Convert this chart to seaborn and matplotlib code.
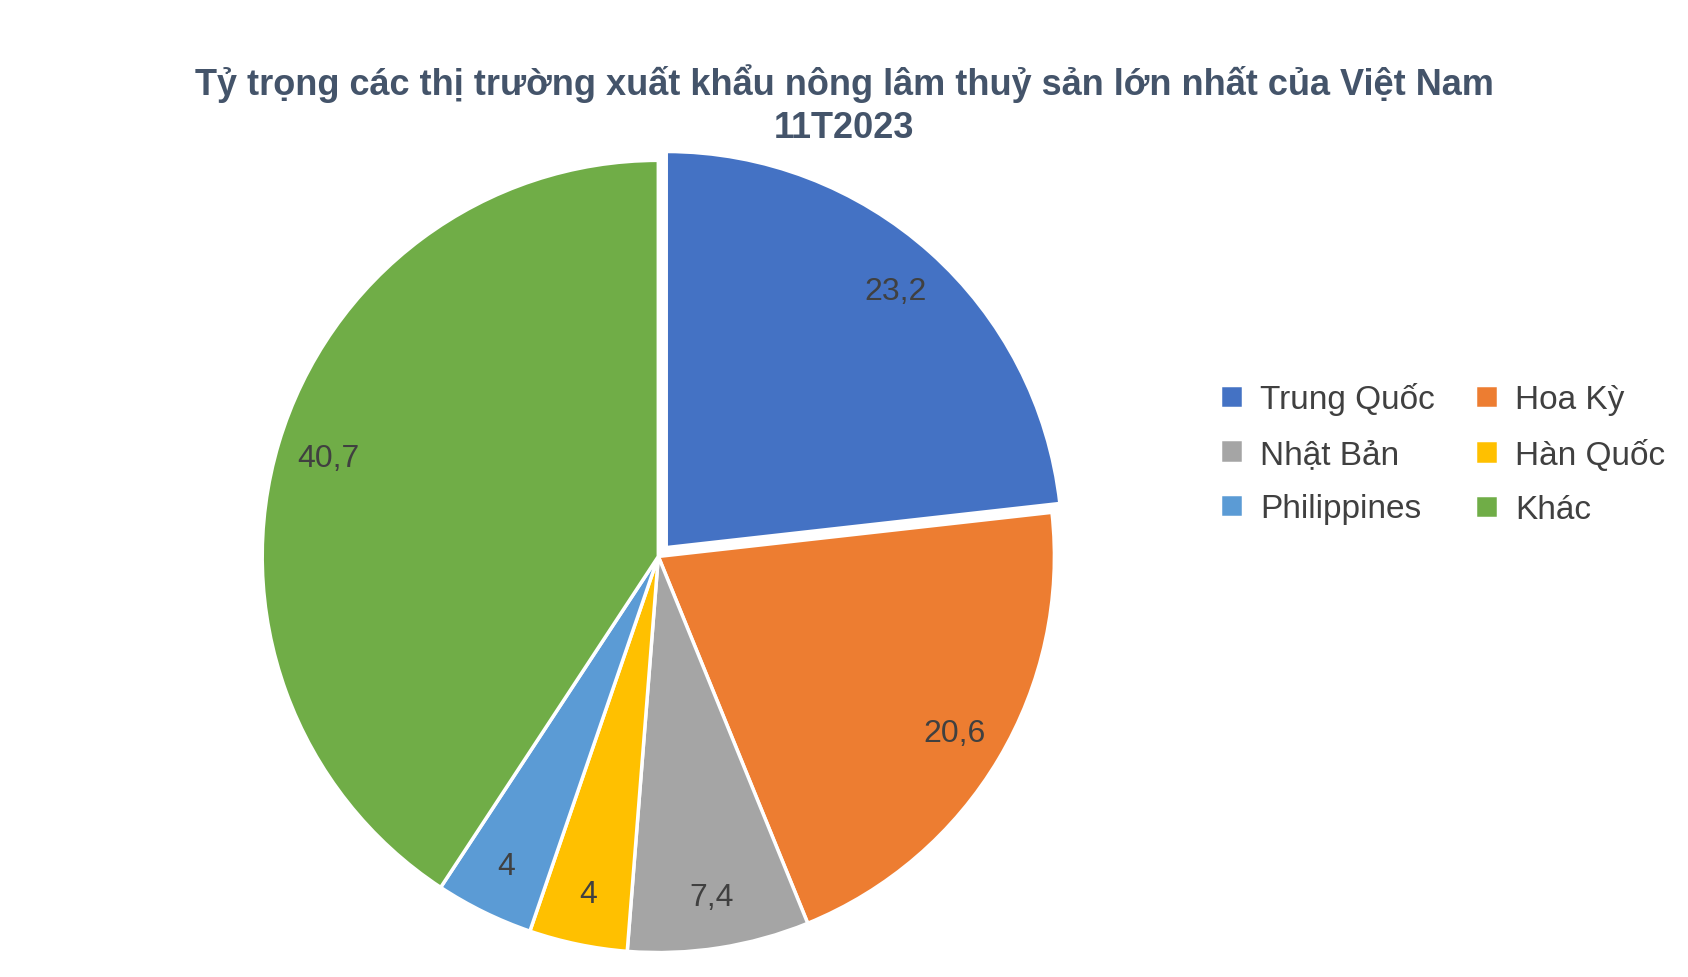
import matplotlib
matplotlib.use("Agg")
import matplotlib.pyplot as plt
import seaborn as sns

sns.set_theme(style="white")
plt.rcParams['font.family'] = ['Liberation Sans', 'DejaVu Sans']

markets = ['Trung Quốc', 'Hoa Kỳ', 'Nhật Bản', 'Hàn Quốc', 'Philippines', 'Khác']
shares = [23.2, 20.6, 7.4, 4, 4, 40.7]
share_labels = ['23,2', '20,6', '7,4', '4', '4', '40,7']
colors = ['#4472C4', '#ED7D31', '#A5A5A5', '#FFC000', '#5B9BD5', '#70AD47']
explode = [0.03, 0, 0, 0, 0, 0]

fig = plt.figure(figsize=(16.88, 9.78), dpi=100)
fig.patch.set_facecolor('white')
ax = fig.add_axes([0.153, 0.02, 0.474, 0.82])
wedges, texts = ax.pie(shares, labels=share_labels, colors=colors, explode=explode,
                       startangle=90, counterclock=False, labeldistance=0.87,
                       wedgeprops=dict(edgecolor='white', linewidth=2.5),
                       textprops=dict(fontsize=23, color='#404040'))
for t in texts:
    t.set_ha('center')
    t.set_va('center')
ax.set_aspect('equal')
ax.set_xlim(-1.01, 1.01)
ax.set_ylim(-1.01, 1.01)

fig.text(0.5, 0.893, 'Tỷ trọng các thị trường xuất khẩu nông lâm thuỷ sản lớn nhất của Việt Nam\n11T2023',
         ha='center', va='center', fontsize=26, fontweight='bold', color='#44546A', linespacing=1.3)

order = [0, 2, 4, 1, 3, 5]
fig.legend([wedges[i] for i in order], [markets[i] for i in order],
           loc='center left', bbox_to_anchor=(0.705, 0.535), ncol=2,
           frameon=False, fontsize=24, labelcolor='#404040', handlelength=0.7, handleheight=0.7,
           columnspacing=1.2, labelspacing=0.7, handletextpad=0.5)

fig.savefig('out.png', dpi=100, facecolor='white')
